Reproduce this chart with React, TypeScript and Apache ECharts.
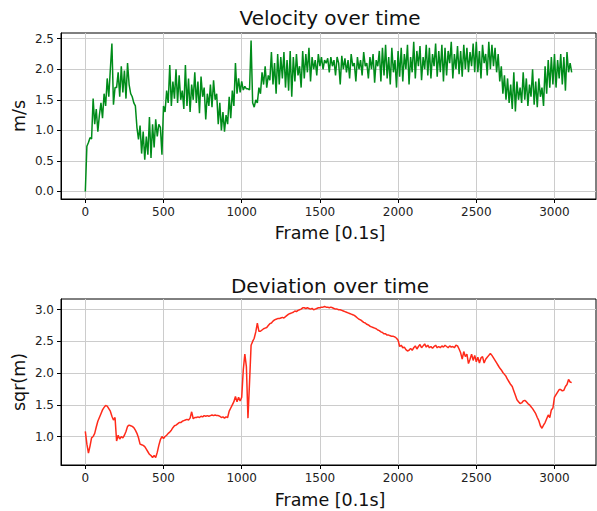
import React, { useEffect, useRef } from "react";
import * as echarts from "echarts";

const FRAME_STEP = 10;

const velocity = [
  0.00, 0.74, 0.80, 0.88, 0.86, 1.52, 1.10, 1.35, 0.98, 1.25,
  1.45, 1.20, 1.60, 1.40, 1.85, 1.55, 2.00, 2.42, 1.42, 1.70,
  1.70, 1.95, 1.55, 2.05, 1.62, 1.98, 1.52, 2.10, 1.75, 1.60,
  1.55, 1.45, 1.40, 1.05, 0.85, 1.08, 0.62, 0.98, 0.52, 0.90,
  0.60, 1.22, 0.55, 1.10, 0.72, 1.18, 0.90, 1.10, 1.05, 0.60,
  1.40, 1.30, 1.65, 1.45, 2.07, 1.40, 1.80, 1.52, 2.00, 1.45,
  1.90, 1.50, 1.65, 1.35, 2.07, 1.40, 1.85, 1.30, 1.75, 1.50,
  1.95, 1.45, 1.80, 1.28, 1.88, 1.55, 1.70, 1.18, 1.60, 1.40,
  1.75, 1.38, 1.82, 1.50, 1.60, 1.10, 1.45, 1.00, 1.30, 0.98,
  1.25, 1.10, 1.55, 1.20, 1.65, 1.40, 2.10, 1.60, 1.85, 1.62,
  1.80, 1.66, 1.72, 1.68, 1.68, 1.66, 2.47, 1.45, 1.38, 1.50,
  1.45, 1.70, 1.60, 1.95, 1.75, 2.05, 1.70, 1.90, 1.82, 2.28,
  1.75, 2.10, 1.60, 2.25, 1.75, 2.20, 1.85, 2.28, 1.70, 2.15,
  1.65, 2.30, 1.55, 2.20, 1.80, 2.25, 1.90, 2.05, 1.70, 2.30,
  1.85, 2.25, 1.95, 2.35, 1.80, 2.20, 2.00, 2.15, 1.90, 2.25,
  2.05, 2.20, 2.00, 2.15, 2.10, 2.18, 1.95, 2.20, 2.05, 2.15,
  1.90, 2.20, 2.10, 1.75, 2.22, 2.00, 2.18, 1.95, 2.15, 1.85,
  2.25, 2.05, 2.10, 1.80, 2.20, 2.00, 2.15, 1.90, 2.28, 2.05,
  2.10, 1.85, 2.20, 2.00, 2.25, 1.78, 2.15, 2.05, 2.30, 1.80,
  2.35, 1.90, 2.40, 1.85, 2.20, 1.75, 2.35, 1.95, 2.15, 1.70,
  2.30, 1.88, 2.35, 1.80, 2.25, 2.00, 2.40, 1.75, 2.20, 1.95,
  2.45, 1.85, 2.30, 2.05, 2.38, 1.82, 2.20, 2.00, 2.40, 1.90,
  2.35, 1.85, 2.25, 2.05, 2.42, 1.88, 2.30, 1.95, 2.40, 1.80,
  2.35, 1.90, 2.30, 2.10, 2.45, 1.85, 2.25, 2.00, 2.38, 1.92,
  2.30, 1.88, 2.40, 2.00, 2.35, 1.95, 2.28, 2.05, 2.42, 1.95,
  2.45, 1.95, 2.30, 1.85, 2.40, 2.10, 2.25, 1.90, 2.45, 2.00,
  2.40, 2.05, 2.35, 1.95, 2.25, 1.80, 2.05, 1.60, 1.90, 1.50,
  1.85, 1.45, 1.75, 1.35, 1.95, 1.31, 1.80, 1.50, 1.70, 1.45,
  1.95, 1.50, 1.85, 1.40, 1.75, 1.55, 2.00, 1.42, 1.80, 1.38,
  1.85, 1.55, 1.70, 1.40, 2.05, 1.60, 2.15, 1.70, 2.20, 1.75,
  2.25, 1.70, 2.15, 1.85, 2.25, 1.75, 2.20, 1.65, 2.28, 1.95,
  2.10, 1.95,
];

const deviation = [
  1.08, 0.88, 0.74, 0.85, 0.98, 1.00, 1.05, 1.15, 1.24, 1.30,
  1.36, 1.42, 1.46, 1.49, 1.48, 1.44, 1.40, 1.32, 1.26, 1.30,
  0.93, 1.02, 0.96, 1.00, 0.98, 1.02, 1.08, 1.16, 1.18, 1.17,
  1.16, 1.14, 1.10, 1.05, 0.98, 0.88, 0.87, 0.86, 0.84, 0.80,
  0.76, 0.72, 0.70, 0.67, 0.70, 0.67, 0.75, 0.86, 0.95, 1.00,
  0.97, 1.00, 1.02, 1.05, 1.07, 1.10, 1.14, 1.17, 1.18, 1.20,
  1.22, 1.22, 1.24, 1.25, 1.26, 1.27, 1.26, 1.29, 1.39, 1.28,
  1.30, 1.30, 1.31, 1.30, 1.32, 1.31, 1.33, 1.32, 1.33, 1.32,
  1.33, 1.34, 1.33, 1.34, 1.33, 1.33, 1.32, 1.30, 1.31, 1.29,
  1.31, 1.30, 1.40, 1.45, 1.50, 1.55, 1.63, 1.55, 1.62, 1.56,
  1.62, 2.05, 2.30, 2.10, 1.29, 1.85, 2.44, 2.50, 2.55, 2.65,
  2.79, 2.66, 2.66, 2.68, 2.70, 2.71, 2.72, 2.75, 2.78, 2.79,
  2.82, 2.84, 2.85, 2.86, 2.86, 2.87, 2.88, 2.87, 2.89, 2.91,
  2.93, 2.94, 2.95, 2.96, 2.98, 2.97, 2.99, 3.00, 3.01, 3.03,
  3.03, 3.02, 3.03, 3.02, 3.01, 3.02, 3.00, 3.01, 3.02, 3.03,
  3.03, 3.04, 3.04, 3.05, 3.04, 3.04, 3.03, 3.04, 3.03, 3.02,
  3.01, 3.01, 3.00, 3.00, 2.99, 2.98, 2.97, 2.96, 2.95, 2.94,
  2.93, 2.92, 2.91, 2.89, 2.87, 2.85, 2.84, 2.82, 2.80, 2.79,
  2.77, 2.76, 2.74, 2.73, 2.72, 2.71, 2.70, 2.68, 2.67, 2.65,
  2.64, 2.62, 2.62, 2.60, 2.60, 2.59, 2.58, 2.58, 2.57, 2.55,
  2.52, 2.42, 2.44, 2.40, 2.41, 2.37, 2.35, 2.36, 2.39, 2.36,
  2.40, 2.43, 2.38, 2.42, 2.45, 2.40, 2.43, 2.46, 2.41, 2.44,
  2.40, 2.42, 2.39, 2.42, 2.44, 2.40, 2.42, 2.40, 2.43, 2.41,
  2.44, 2.42, 2.40, 2.43, 2.41, 2.42, 2.40, 2.44, 2.43, 2.38,
  2.32, 2.22, 2.34, 2.26, 2.30, 2.15, 2.22, 2.30, 2.20, 2.28,
  2.18, 2.25, 2.16, 2.24, 2.26, 2.16, 2.22, 2.25, 2.28, 2.31,
  2.28, 2.24, 2.20, 2.16, 2.12, 2.08, 2.05, 2.01, 1.98, 1.95,
  1.90, 1.86, 1.82, 1.79, 1.72, 1.65, 1.58, 1.55, 1.52, 1.53,
  1.56, 1.57, 1.55, 1.52, 1.50, 1.47, 1.44, 1.40, 1.36, 1.30,
  1.25, 1.17, 1.13, 1.18, 1.22, 1.28, 1.34, 1.30, 1.42, 1.45,
  1.62, 1.66, 1.70, 1.74, 1.74, 1.72, 1.73, 1.79, 1.82, 1.90,
  1.86, 1.85,
];

const xTicks = [0, 500, 1000, 1500, 2000, 2500, 3000];
const velTicks = [0, 0.5, 1.0, 1.5, 2.0, 2.5];
const devTicks = [1.0, 1.5, 2.0, 2.5, 3.0];

const titles = ["Velocity over time", "Deviation over time"];
const xLabel = "Frame [0.1s]";
const yLabels = ["m/s", "sqr(m)"];

const FONT = "DejaVu Sans";

export default function App() {
  const ref = useRef<HTMLDivElement>(null);
  useEffect(() => {
    if (!ref.current) return;
    const chart = echarts.init(ref.current, undefined, { renderer: "svg" });
    const frames = velocity.map((_, i) => i * FRAME_STEP);
    const velData = velocity.map((v, i) => [frames[i], v]);
    const devData = deviation.map((v, i) => [frames[i], v]);

    const xAxisBase = (gridIndex: number) => ({
      type: "value",
      gridIndex,
      min: -155.5,
      max: 3265.5,
      axisLine: { show: true, onZero: false, lineStyle: { color: "#000", width: 1 } },
      axisTick: {
        show: true,
        length: 4,
        inside: false,
        customValues: xTicks,
        lineStyle: { color: "#000", width: 1 },
      },
      axisLabel: {
        customValues: xTicks,
        color: "#222",
        fontSize: 12,
        fontFamily: FONT,
        margin: 7,
        formatter: (v: number) => String(v),
      },
      splitLine: { show: true, lineStyle: { color: "#cccccc", width: 1 } },
    });
    const yAxisBase = (gridIndex: number, min: number, max: number, ticks: number[]) => ({
      type: "value",
      gridIndex,
      min,
      max,
      axisLine: { show: true, onZero: false, lineStyle: { color: "#000", width: 1 } },
      axisTick: {
        show: true,
        length: 4,
        inside: false,
        customValues: ticks,
        lineStyle: { color: "#000", width: 1 },
      },
      axisLabel: {
        customValues: ticks,
        color: "#222",
        fontSize: 12,
        fontFamily: FONT,
        margin: 7,
        formatter: (v: number) => v.toFixed(1),
      },
      splitLine: { show: true, lineStyle: { color: "#cccccc", width: 1 } },
    });

    const textStyle = (size: number) => ({
      fill: "#111",
      font: `${size}px '${FONT}'`,
      textAlign: "center",
      textVerticalAlign: "middle",
    });

    chart.setOption({
      animation: false,
      backgroundColor: "#fff",
      grid: [
        { left: 61, top: 33, right: 1, height: 166, show: true, borderColor: "#000", borderWidth: 1, backgroundColor: "transparent" },
        { left: 61, top: 299, right: 1, height: 166, show: true, borderColor: "#000", borderWidth: 1, backgroundColor: "transparent" },
      ],
      xAxis: [xAxisBase(0), xAxisBase(1)],
      yAxis: [
        yAxisBase(0, -0.1235, 2.5935, velTicks),
        yAxisBase(1, 0.551, 3.169, devTicks),
      ],
      series: [
        {
          type: "line",
          xAxisIndex: 0,
          yAxisIndex: 0,
          data: velData,
          showSymbol: false,
          symbol: "none",
          lineStyle: { color: "#008c1a", width: 1.5 },
        },
        {
          type: "line",
          xAxisIndex: 1,
          yAxisIndex: 1,
          data: devData,
          showSymbol: false,
          symbol: "none",
          lineStyle: { color: "#ff2a1a", width: 1.5 },
        },
      ],
      graphic: [
        { type: "text", x: 330, y: 18, style: { ...textStyle(20), text: titles[0] } },
        { type: "text", x: 330, y: 233, style: { ...textStyle(17.5), text: xLabel } },
        { type: "text", x: 19, y: 116, rotation: Math.PI / 2, style: { ...textStyle(17.5), text: yLabels[0] } },
        { type: "text", x: 330, y: 286, style: { ...textStyle(20), text: titles[1] } },
        { type: "text", x: 330, y: 500, style: { ...textStyle(17.5), text: xLabel } },
        { type: "text", x: 19, y: 382, rotation: Math.PI / 2, style: { ...textStyle(17.5), text: yLabels[1] } },
      ],
    });
    return () => chart.dispose();
  }, []);
  return (
    <div
      ref={ref}
      style={{ position: "fixed", left: 0, top: 0, width: 597, height: 511 }}
    />
  );
}
